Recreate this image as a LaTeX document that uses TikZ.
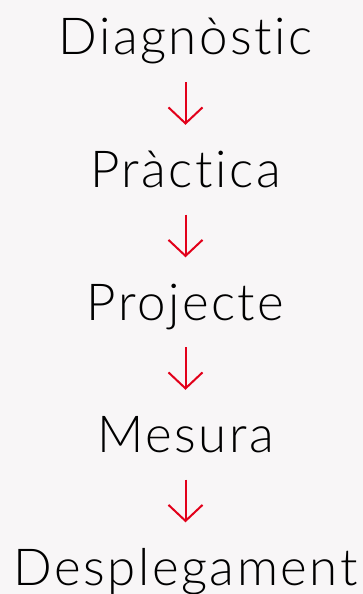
\documentclass[tikz,border=0pt]{standalone}
\usepackage{fontspec}
\setmainfont{Lato}[UprightFont={* Light}, LetterSpace=5, Ligatures={NoCommon}]
\usetikzlibrary{arrows.meta}
\definecolor{bgpaper}{HTML}{F8F6F7}
\definecolor{arrowred}{HTML}{E2001A}
\tikzset{
    every node/.style={inner sep=0pt, font=\fontsize{51}{56}\selectfont,
    	text height=31pt, text depth=9pt, anchor=base},
    step arrow/.style={draw=arrowred, line width=2pt,
    	-{Straight Barb[length=16pt, width=34pt]},
    	shorten <=18pt, shorten >=31.5pt}
}

\begin{document}
\begin{tikzpicture}[x=1pt, y=1pt]
  \fill[bgpaper] (0,0) rectangle (363,-594);
  \useasboundingbox (0,0) rectangle (363,-594);
  \node (diag) at (185.5,-55) {Diagnòstic};
  \node (prac) at (185.5,-187.5) {Pràctica};
  \node (proj) at (185.5,-320) {Projecte};
  \node (mesu) at (185.5,-452.5) {Mesura};
  \node (desp) at (185.5,-585) {Desplegament};

  \draw[step arrow] (diag.south) -- (prac.north);
  \draw[step arrow] (prac.south) -- (proj.north);
  \draw[step arrow] (proj.south) -- (mesu.north);
  \draw[step arrow] (mesu.south) -- (desp.north);
\end{tikzpicture}
\end{document}
